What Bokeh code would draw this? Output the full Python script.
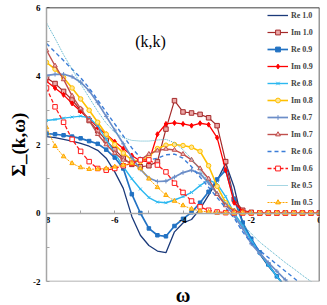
from bokeh.plotting import figure
from bokeh.models import Range1d, FixedTicker, Legend, LegendItem, Label, Span, Title
from bokeh.embed import file_html
from bokeh.resources import INLINE

# ---- data ----
omega = [-8.0, -7.75, -7.5, -7.25, -7.0, -6.75, -6.5, -6.25, -6.0, -5.75, -5.5,
         -5.25, -5.0, -4.75, -4.5, -4.25, -4.0, -3.75, -3.5, -3.25, -3.0, -2.75,
         -2.5, -2.25, -2.0, -1.75, -1.5, -1.25, -1.0, -0.75, -0.5, -0.25, 0.0]

re_10 = [2.23, 2.2, 2.15, 2.1, 2.03, 1.95, 1.83, 1.6, 1.2, 0.72, -0.1, -0.65,
         -0.95, -1.11, -1.16, -0.55, -0.29, -0.19, 0.12, 0.52, 0.95, 1.45, 0.75,
         -0.3, -0.8, -1.2, -1.55, -1.85, -2.15, -2.45, -2.75, -3.05, -3.35]
im_10 = [3.95, 3.78, 3.55, 3.3, 3.0, 2.7, 2.4, 2.12, 1.85, 1.6, 1.42, 1.35,
         1.38, 1.5, 2.45, 3.28, 2.95, 2.92, 2.88, 2.78, 2.55, 1.5, 0.4, 0.08,
         0.02, 0.0, 0.0, 0.0, 0.0, 0.0, 0.0, 0.0, 0.0]
re_09 = [2.32, 2.3, 2.27, 2.23, 2.18, 2.1, 2.02, 1.85, 1.62, 1.3, 0.55, 0.0,
         -0.45, -0.65, -0.68, -0.38, -0.17, 0.02, 0.3, 0.62, 0.98, 1.25, 0.4,
         -0.28, -0.75, -1.15, -1.5, -1.85, -2.15, -2.45, -2.75, -3.05, -3.35]
im_09 = [3.85, 3.65, 3.45, 3.2, 2.97, 2.75, 2.5, 2.3, 2.08, 1.88, 1.68, 1.52,
         1.5, 2.3, 2.6, 2.63, 2.6, 2.55, 2.62, 2.58, 2.2, 1.25, 0.3, 0.05,
         0.01, 0.0, 0.0, 0.0, 0.0, 0.0, 0.0, 0.0, 0.0]
re_08 = [2.7, 2.73, 2.77, 2.8, 2.83, 2.78, 2.55, 2.15, 1.75, 1.35, 1.0, 0.7,
         0.45, 0.32, 0.3, 0.38, 0.48, 0.6, 0.8, 0.97, 0.85, 0.48, 0.0, -0.38,
         -0.8, -1.18, -1.52, -1.85, -2.18, -2.5, -2.8, -3.1, -3.4]
im_08 = [4.4, 4.2, 3.95, 3.65, 3.33, 3.0, 2.65, 2.3, 2.0, 1.75, 1.55, 1.5,
         1.65, 1.88, 1.98, 2.0, 1.97, 1.92, 1.8, 1.38, 0.78, 0.3, 0.06, 0.02,
         0.0, 0.0, 0.0, 0.0, 0.0, 0.0, 0.0, 0.0, 0.0]
re_07 = [4.02, 4.05, 4.05, 3.98, 3.82, 3.57, 3.22, 2.82, 2.42, 2.02, 1.62, 1.28,
         1.02, 0.92, 0.93, 1.05, 1.18, 1.25, 1.15, 0.88, 0.57, 0.25, -0.08,
         -0.45, -0.9, -1.18, -1.45, -1.7, -1.95, -2.18, -2.4, -2.62, -2.85]
im_07 = [4.75, 4.3, 3.9, 3.42, 3.05, 2.7, 2.3, 2.0, 1.75, 1.55, 1.45, 1.55,
         1.72, 1.82, 1.87, 1.84, 1.72, 1.55, 1.3, 1.0, 0.55, 0.22, 0.06, 0.01,
         0.0, 0.0, 0.0, 0.0, 0.0, 0.0, 0.0, 0.0, 0.0]
re_06 = [4.95, 4.7, 4.45, 4.2, 3.95, 3.65, 3.3, 2.95, 2.6, 2.25, 1.9, 1.62,
         1.55, 1.6, 1.7, 1.72, 1.6, 1.35, 1.05, 0.75, 0.45, 0.15, -0.15, -0.55,
         -0.88, -1.1, -1.3, -1.5, -1.7, -1.9, -2.1, -2.3, -2.5]
im_06 = [3.65, 3.1, 2.65, 2.15, 1.8, 1.5, 1.3, 1.25, 1.3, 1.38, 1.45, 1.55,
         1.55, 1.4, 1.2, 0.87, 0.6, 0.35, 0.18, 0.08, 0.03, 0.01, 0.0, 0.0,
         0.0, 0.0, 0.0, 0.0, 0.0, 0.0, 0.0, 0.0, 0.0]
re_05 = [5.55, 5.1, 4.62, 4.2, 3.77, 3.37, 2.97, 2.62, 2.36, 2.2, 2.12, 2.1,
         2.1, 2.13, 2.15, 2.05, 1.85, 1.58, 1.25, 0.92, 0.58, 0.27, -0.03,
         -0.33, -0.6, -0.85, -1.05, -1.25, -1.45, -1.63, -1.82, -2.0, -2.18]
im_05 = [2.5, 1.95, 1.65, 1.45, 1.33, 1.28, 1.28, 1.3, 1.35, 1.4, 1.45, 1.3,
         1.0, 0.75, 0.52, 0.35, 0.22, 0.12, 0.06, 0.03, 0.01, 0.0, 0.0, 0.0,
         0.0, 0.0, 0.0, 0.0, 0.0, 0.0, 0.0, 0.0, 0.0]

labels = ["Re 1.0", "Im 1.0", "Re 0.9", "Im 0.9", "Re 0.8", "Im 0.8",
          "Re 0.7", "Im 0.7", "Re 0.6", "Im 0.6", "Re 0.5", "Im 0.5"]
x_ticks = [-8, -6, -4, -2, 0]
y_ticks = [-2, 0, 2, 4, 6]

series = [re_10, im_10, re_09, im_09, re_08, im_08, re_07, im_07, re_06, im_06, re_05, im_05]

# styles: color, dash, width, marker, marker size, marker fill
styles = [
    ("#1B3A7A", "solid", 1.3, None, 0, None),
    ("#A52A2A", "solid", 1.2, "square", 4.5, "#EBA8A8"),
    ("#2272C3", "solid", 1.7, "square", 3.5, "#2272C3"),
    ("#FF0000", "solid", 1.3, "diamond", 5, "#FF0000"),
    ("#2CB8F0", "solid", 1.4, "x", 4, None),
    ("#FFC000", "solid", 1.6, "circle", 4.5, "#FFE699"),
    ("#6C8EC8", "solid", 1.7, "cross", 4.5, None),
    ("#C0504D", "solid", 1.4, "triangle", 4.5, "#F2C4C4"),
    ("#3B7DD8", "4 3", 1.4, None, 0, None),
    ("#FF1A1A", "4 2", 1.3, "square", 4.5, "white"),
    ("#4BACC6", "1 1", 1.0, None, 0, None),
    ("#FFA500", "2 1", 1.0, "triangle", 4.5, "#FFD24D"),
]

SERIF = "Liberation Serif"

p = figure(width=327, height=305, x_range=Range1d(-8, 0), y_range=Range1d(-2, 6),
           output_backend="svg", toolbar_location=None,
           min_border_left=46, min_border_right=8, min_border_top=7, min_border_bottom=0)
p.outline_line_color = None
p.grid.visible = False
p.background_fill_color = "white"

items = []
for lab, ys, st in zip(labels, series, styles):
    color, dash, lw, marker, msize, mfill = st
    rs = [p.line(omega, ys, line_color=color, line_width=lw, line_dash=dash)]
    if marker is not None:
        if marker in ("x", "cross"):
            rs.append(p.scatter(omega, ys, marker=marker, size=msize, line_color=color, line_width=1))
        else:
            rs.append(p.scatter(omega, ys, marker=marker, size=msize, line_color=color,
                                fill_color=mfill, line_width=1))
    items.append(LegendItem(label=lab, renderers=rs))

# frame edges
p.add_layout(Span(location=6, dimension="width", line_color="black", line_width=1.5))
p.add_layout(Span(location=0, dimension="height", line_color="#333333", line_width=1.5))
p.add_layout(Span(location=-2, dimension="width", line_color="#999999", line_width=1.5))

# axes
xa = p.xaxis[0]
xa.fixed_location = 0
xa.ticker = FixedTicker(ticks=x_ticks, minor_ticks=[-7, -5, -3, -1])
xa.major_label_overrides = {t: str(t) for t in x_ticks}
ya = p.yaxis[0]
ya.ticker = FixedTicker(ticks=y_ticks, minor_ticks=[-1, 1, 3, 5])
ya.major_label_overrides = {t: str(t) for t in y_ticks}
for ax in (xa, ya):
    ax.axis_line_color = "#A6A6A6"
    ax.axis_line_width = 1.5
    ax.major_tick_line_color = "#A6A6A6"
    ax.minor_tick_line_color = "#A6A6A6"
    ax.major_tick_in = 3
    ax.major_tick_out = 0
    ax.minor_tick_in = 3
    ax.minor_tick_out = 0
    ax.major_label_text_font = SERIF
    ax.major_label_text_font_style = "bold"
    ax.major_label_text_font_size = "9px"
    ax.major_label_text_color = "black"
xa.major_label_standoff = 4
ya.major_label_standoff = 6
ya.axis_label = "Σ_(k,ω)"
ya.axis_label_text_font = SERIF
ya.axis_label_text_font_style = "bold"
ya.axis_label_text_font_size = "19px"
ya.axis_label_standoff = 1
ya.axis_label_text_color = "black"

p.add_layout(Title(text="ω", align="center", text_font=SERIF, text_font_style="bold",
                   text_font_size="20px", text_line_height=0.75, text_color="black",
                   standoff=0, offset=0),
             "below")
p.add_layout(Label(x=-4.95, y=5.0, text="(k,k)", text_align="center", text_baseline="middle",
                   text_font=SERIF, text_font_size="16px", text_color="black"))

legend = Legend(items=items, location=(221, 73), padding=0, margin=0, spacing=5,
                glyph_width=21, glyph_height=12, label_height=12, label_standoff=3,
                label_text_font=SERIF, label_text_font_style="bold",
                label_text_font_size="8px", background_fill_alpha=0,
                border_line_color=None)
p.add_layout(legend)

open("out.html", "w").write(file_html(p, INLINE))
